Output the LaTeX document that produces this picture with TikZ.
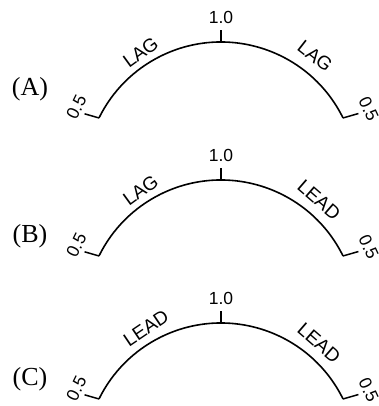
\documentclass[tikz,border=0pt]{standalone}
\usepackage{fontspec}
\setmainfont{Liberation Serif}
\setsansfont{Liberation Sans}
\usetikzlibrary{calc}

\begin{document}
\begin{tikzpicture}[
  x=1pt, y=1pt,
  dial/.style={line width=1.6pt},
  tickln/.style={line width=1.5pt},
  val/.style={font=\sffamily\fontsize{17.5}{17.5}\selectfont, inner sep=0pt},
  arclbl/.style={font=\sffamily\fontsize{19}{19}\selectfont, inner sep=0pt},
  tag/.style={font=\fontsize{26}{26}\selectfont, inner sep=0pt},
]

% page frame, same size as the scan
\useasboundingbox (0,0) rectangle (378,-406);

% three dials: arc, end ticks, top tick, scale values
\foreach \p/\top/\tagy in {A/42/89, B/180/236, C/323/379} {
  \coordinate (c\p) at (221,{-\top-136});
  \coordinate (l\p) at ($(c\p)+(153.8:136)$);
  \coordinate (r\p) at ($(c\p)+(26.2:136)$);
  \coordinate (t\p) at ($(c\p)+(90:136)$);
  \draw[dial] (r\p) arc[start angle=26.2, end angle=153.8, radius=136];
  \draw[tickln] (l\p) -- ++(164:15) coordinate (lk\p);
  \draw[tickln] (r\p) -- ++(16:16) coordinate (rk\p);
  \draw[tickln] (t\p) -- ++(0,12) coordinate (tk\p);
  \node[val, anchor=south] (one\p) at ($(tk\p)+(0,6)$) {1.0};
  \node[val, rotate=64] (lo\p) at ($(c\p)+(154:161)$) {0.5};
  \node[val, rotate=-65] (ro\p) at ($(c\p)+(25:163)$) {0.5};
  \node[tag] (tag\p) at (30,-\tagy) {(\p)};
}

% phase labels along the arcs
\node[arclbl, rotate=36]  (lA) at ($(cA)+(122.6:149)$) {LAG};
\node[arclbl, rotate=-38] (rA) at ($(cA)+(52.3:154)$) {LAG};
\node[arclbl, rotate=36]  (lB) at ($(cB)+(122.6:149)$) {LAG};
\node[arclbl, rotate=-41] (rB) at ($(cB)+(49.8:152)$) {LEAD};
\node[arclbl, rotate=34]  (lC) at ($(cC)+(119.8:151)$) {LEAD};
\node[arclbl, rotate=-41] (rC) at ($(cC)+(49.8:152)$) {LEAD};

\end{tikzpicture}
\end{document}
